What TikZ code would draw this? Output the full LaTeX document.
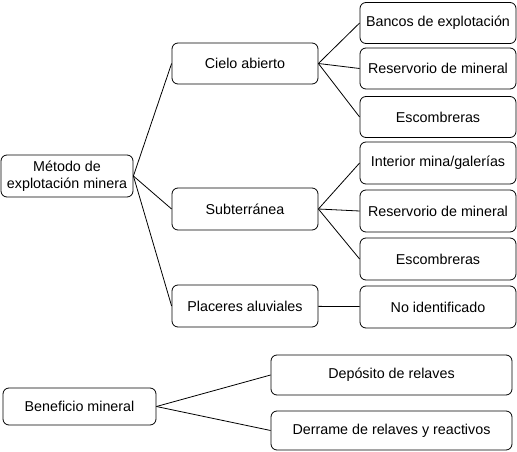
\documentclass[tikz,border=0pt]{standalone}
\usepackage{fontspec}
\setmainfont{Liberation Sans}
\usepackage{tikz}

\begin{document}
\begin{tikzpicture}[x=1pt,y=-1pt]
\tikzset{
	box/.style={draw,line width=0.8pt,rounded corners=6pt,align=center,
		inner sep=1pt,font=\fontsize{14.3}{17}\selectfont},
	rama/.style={line width=0.8pt}
}
\useasboundingbox (0,0) rectangle (517,452);
% metodo de explotacion
\node(metodo)[box,minimum width=132pt,minimum height=42pt] at (67,176)
									{Método de\\explotación minera};
\node(cielo)[box,minimum width=146pt,minimum height=41pt] at (245,63.5){Cielo abierto};
\node(subte)[box,minimum width=146pt,minimum height=42pt] at (245,209){Subterránea};
\node(placer)[box,minimum width=146pt,minimum height=42pt] at (245,306){Placeres aluviales};
\node(bancos)[box,minimum width=156pt,minimum height=41pt] at (438,23){Bancos de explotación};
\node(reserv1)[box,minimum width=156pt,minimum height=41pt] at (438,68.5){Reservorio de mineral};
\node(escomb1)[box,minimum width=156pt,minimum height=41pt] at (438,117){Escombreras};
\node(interior)[box,minimum width=156pt,minimum height=42pt] at (438,163){Interior mina/galerías};
\node(reserv2)[box,minimum width=156pt,minimum height=42pt] at (438,211){Reservorio de mineral};
\node(escomb2)[box,minimum width=156pt,minimum height=42pt] at (438,259){Escombreras};
\node(noident)[box,minimum width=156pt,minimum height=42pt] at (438,307){No identificado};
% beneficio
\node(benef)[box,minimum width=153pt,minimum height=37pt] at (79.5,406.5){Beneficio mineral};
\node(deposito)[box,minimum width=241pt,minimum height=40pt] at (391.5,375){Depósito de relaves};
\node(derrame)[box,minimum width=241pt,minimum height=39pt] at (391.5,430.5)
									{Derrame de relaves y reactivos};
\foreach \hijo in {cielo,subte,placer}
	\draw[rama] (metodo.east) -- (\hijo.west);
\foreach \hijo in {bancos,reserv1,escomb1}
	\draw[rama] (cielo.east) -- (\hijo.west);
\foreach \hijo in {interior,reserv2,escomb2}
	\draw[rama] (subte.east) -- (\hijo.west);
\draw[rama] (placer) -- (noident);
\draw[rama] (benef.east) -- (deposito.west);
\draw[rama] (benef.east) -- (derrame.west);
\end{tikzpicture}
\end{document}
